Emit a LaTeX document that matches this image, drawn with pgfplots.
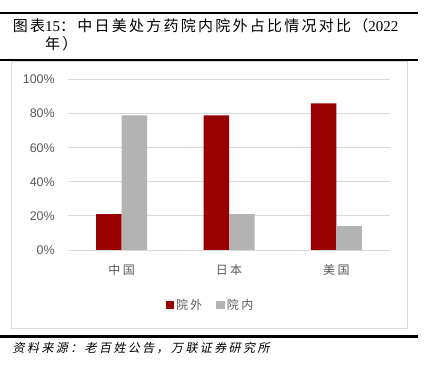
\documentclass[border=0pt]{standalone}
\usepackage{fontspec}
\setmainfont{Liberation Serif}
\newfontfamily\sans{Liberation Sans}
\newfontfamily\cjkT[LetterSpace=15]{Noto Sans CJK SC}
\newfontfamily\cjkL[LetterSpace=20]{Noto Sans CJK SC}
\newfontfamily\cjkI[FakeSlant=0.2,LetterSpace=20]{Noto Sans CJK SC}
\usepackage{pgfplots}
\pgfplotsset{compat=1.18}
\definecolor{barred}{HTML}{990000}
\definecolor{bargray}{HTML}{B3B3B3}
\definecolor{gridc}{HTML}{D9D9D9}
\definecolor{labc}{HTML}{595959}
\begin{document}
\begin{tikzpicture}[x=1pt,y=1pt]
\useasboundingbox (0,0) rectangle (425,-369);
\draw[line width=2.2pt] (0,-13) -- (418,-13);
\draw[line width=2.5pt] (0,-60) -- (418,-60);
\draw[line width=2.5pt] (0,-336.5) -- (418,-336.5);
\draw[gridc, line width=0.8pt] (11,-61.5) rectangle (407,-328);
\node[anchor=base west, inner sep=0pt] at (12.7,-32) {\fontsize{15}{18}\selectfont{\cjkT 图表}15{\cjkT ：中日美处方药院内院外占比情况对比（}2022};
\node[anchor=base west, inner sep=0pt] at (45,-49) {\fontsize{15}{18}\selectfont\cjkT 年）};
\node[anchor=west, inner sep=0pt] at (12.5,-348) {\fontsize{12}{14}\selectfont\cjkI 资料来源：老百姓公告，万联证券研究所};
\begin{axis}[
  at={(68pt,-250pt)}, anchor=south west,
  scale only axis, width=322pt, height=170.5pt,
  xmin=-0.5, xmax=2.5, ymin=0, ymax=100,
  ybar=0pt, bar width=25.5pt,
  axis line style={draw=none},
  ymajorgrids, grid style={gridc, line width=0.9pt},
  xtick={0,1,2}, xticklabels={中国,日本,美国},
  ytick={0,20,40,60,80,100},
  yticklabels={0\%,20\%,40\%,60\%,80\%,100\%},
  major tick length=0pt,
  yticklabel style={font=\fontsize{12.5}{14}\selectfont\sans, text=labc, inner sep=0pt, anchor=east, xshift=-13pt},
  xticklabel style={font=\fontsize{12}{14}\selectfont\cjkL, text=labc, inner sep=0pt, anchor=center, yshift=-20pt},
  legend style={at={(0.4425,-0.3226)}, anchor=center, draw=none, fill=none, legend columns=2,
    font=\fontsize{12}{14}\selectfont\cjkL, text=labc,
    /tikz/every even column/.append style={column sep=12pt}},
  legend cell align=left,
  legend image code/.code={\fill[#1] (0pt,-4.25pt) rectangle (8.5pt,4.25pt);},
]
\addplot[fill=barred, draw=none] coordinates {(0,21) (1,79) (2,86)};
\addplot[fill=bargray, draw=none] coordinates {(0,79) (1,21) (2,14)};
\draw[gridc, line width=0.9pt] (axis cs:-0.5,0) -- (axis cs:2.5,0);
\legend{院外,院内}
\end{axis}
\end{tikzpicture}
\end{document}
